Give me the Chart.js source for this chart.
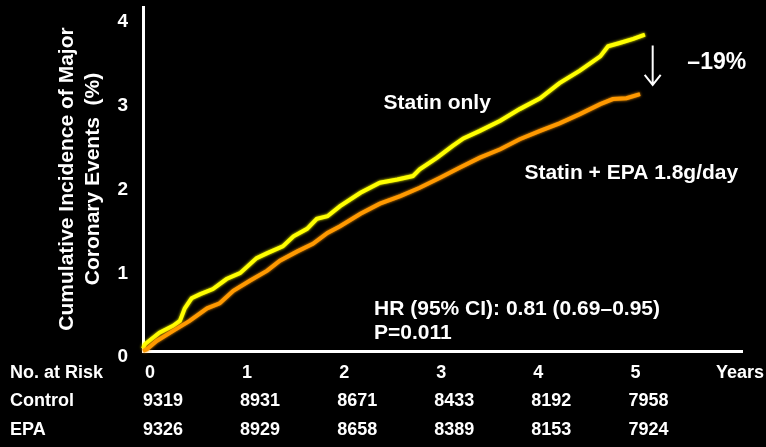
<!DOCTYPE html>
<html>
<head>
<meta charset="utf-8">
<script src="https://cdn.jsdelivr.net/npm/chart.js@4/dist/chart.umd.min.js"></script>
<style>
  html, body { margin: 0; padding: 0; background: #000; }
  #wrap { width: 766px; height: 447px; }
</style>
</head>
<body>
<div id="wrap"><canvas id="c" width="766" height="447"></canvas></div>
<script>
const FONT = '"Liberation Sans", Arial, Helvetica, sans-serif';

// Axis ticks
const yearTicks = [0, 1, 2, 3, 4, 5];
const pctTicks = [0, 1, 2, 3, 4];

// Number at risk per year
const atRiskControl = [9319, 8931, 8671, 8433, 8192, 7958];
const atRiskEPA = [9326, 8929, 8658, 8389, 8153, 7924];

// Cumulative incidence (%) of major coronary events, statin only
const statinOnlyYears = [0, 0.02, 0.17, 0.31, 0.38, 0.43, 0.50, 0.59, 0.72, 0.86, 1.00, 1.17, 1.28, 1.44, 1.55,
  1.69, 1.79, 1.90, 2.03, 2.24, 2.44, 2.62, 2.78, 2.85, 3.03, 3.19, 3.30, 3.47, 3.68, 3.88, 4.09, 4.29,
  4.50, 4.71, 4.79, 4.91, 5.05, 5.17];
const statinOnlyPct = [0.03, 0.08, 0.22, 0.30, 0.36, 0.51, 0.63, 0.68, 0.74, 0.86, 0.93, 1.11, 1.17, 1.25, 1.37,
  1.46, 1.58, 1.61, 1.73, 1.89, 2.01, 2.05, 2.09, 2.17, 2.31, 2.45, 2.54, 2.63, 2.75, 2.89, 3.02, 3.20,
  3.35, 3.52, 3.64, 3.68, 3.73, 3.78];

// Cumulative incidence (%) of major coronary events, statin + EPA
const statinEpaYears = [0, 0.04, 0.14, 0.31, 0.48, 0.66, 0.79, 0.93, 1.10, 1.28, 1.41, 1.59, 1.75, 1.90, 2.03,
  2.24, 2.44, 2.65, 2.85, 3.06, 3.26, 3.47, 3.68, 3.88, 4.09, 4.29, 4.50, 4.71, 4.84, 4.98, 5.12];
const statinEpaPct = [0.0, 0.02, 0.12, 0.24, 0.36, 0.51, 0.57, 0.72, 0.84, 0.96, 1.08, 1.19, 1.28, 1.41, 1.49,
  1.64, 1.76, 1.85, 1.95, 2.07, 2.19, 2.31, 2.41, 2.53, 2.63, 2.72, 2.83, 2.95, 3.01, 3.02, 3.07];

const toPoints = (xs, ys) => xs.map((x, i) => ({ x, y: ys[i] }));

const white = '#ffffff';
const yellow = '#ffff00';
const orange = '#ff9900';

// Soft glow around the survival curves
const glowPlugin = {
  id: 'glow',
  beforeDatasetDraw(chart, args) {
    const ds = chart.data.datasets[args.index];
    chart.ctx.save();
    chart.ctx.shadowColor = ds.borderColor;
    chart.ctx.shadowBlur = 3;
  },
  afterDatasetDraw(chart) {
    chart.ctx.restore();
  }
};

// Labels, arrow, hazard ratio and the number-at-risk table
const notesPlugin = {
  id: 'notes',
  afterDraw(chart) {
    const { ctx, chartArea } = chart;
    const xs = chart.scales.x, ys = chart.scales.y;
    const px = v => xs.getPixelForValue(v);
    const py = v => ys.getPixelForValue(v);
    ctx.save();
    ctx.fillStyle = white;
    ctx.strokeStyle = white;

    ctx.font = 'bold 21px ' + FONT;
    ctx.textBaseline = 'middle';
    ctx.textAlign = 'center';
    ctx.fillText('Statin only', px(3.03), py(2.96));
    ctx.fillText('Statin + EPA 1.8g/day', px(5.03), py(2.125));

    ctx.font = 'bold 23px ' + FONT;
    ctx.fillText('\u201319%', px(5.91), py(3.44));

    // reduction arrow
    const ax = px(5.25), ay0 = py(3.65), ay1 = py(3.18);
    ctx.lineWidth = 2;
    ctx.beginPath();
    ctx.moveTo(ax, ay0);
    ctx.lineTo(ax, ay1);
    ctx.moveTo(ax - 8, ay1 - 10);
    ctx.lineTo(ax, ay1);
    ctx.lineTo(ax + 8, ay1 - 10);
    ctx.stroke();

    ctx.font = 'bold 21px ' + FONT;
    ctx.textAlign = 'left';
    ctx.textBaseline = 'alphabetic';
    ctx.fillText('HR (95% CI): 0.81 (0.69\u20130.95)', px(2.38), py(0.43));
    ctx.fillText('P=0.011', px(2.38), py(0.143));

    // number at risk
    const rowHead = chartArea.bottom + 22;
    const rowCtl = chartArea.bottom + 50;
    const rowEpa = chartArea.bottom + 79;
    ctx.font = 'bold 18px ' + FONT;
    ctx.textBaseline = 'middle';
    ctx.textAlign = 'left';
    ctx.fillText('No. at Risk', 10, rowHead);
    ctx.fillText('Control', 10, rowCtl);
    ctx.fillText('EPA', 10, rowEpa);
    ctx.fillText('Years', 716, rowHead);
    yearTicks.forEach((yr, i) => {
      const x = px(yr);
      ctx.fillText(String(atRiskControl[i]), x, rowCtl);
      ctx.fillText(String(atRiskEPA[i]), x, rowEpa);
    });
    ctx.restore();
  }
};

new Chart(document.getElementById('c'), {
  type: 'line',
  data: {
    datasets: [
      {
        label: 'Statin + EPA 1.8g/day',
        data: toPoints(statinEpaYears, statinEpaPct),
        borderColor: orange,
        borderWidth: 4,
        pointRadius: 0,
        tension: 0,
        clip: false
      },
      {
        label: 'Statin only',
        data: toPoints(statinOnlyYears, statinOnlyPct),
        borderColor: yellow,
        borderWidth: 4,
        pointRadius: 0,
        tension: 0,
        clip: false
      }
    ]
  },
  options: {
    responsive: false,
    animation: false,
    devicePixelRatio: 1,
    layout: { padding: { left: 0, right: 24, top: 7, bottom: 0 } },
    plugins: { legend: { display: false }, tooltip: { enabled: false } },
    scales: {
      x: {
        type: 'linear',
        min: 0,
        max: 6.17,
        grid: { display: false, drawTicks: false },
        border: { display: true, color: white, width: 3 },
        afterBuildTicks: s => { s.ticks = yearTicks.map(v => ({ value: v })); },
        afterFit: s => {
          s.height = 96;
          s.paddingLeft = 0; s.paddingRight = 0;
        },
        ticks: {
          color: white,
          font: { family: FONT, size: 18, weight: 'bold' },
          padding: 11,
          labelOffset: 7,
          maxRotation: 0,
          autoSkip: false,
          callback: v => String(v)
        }
      },
      y: {
        type: 'linear',
        min: 0,
        max: 4.11,
        grid: { display: false, drawTicks: false },
        border: { display: true, color: white, width: 3 },
        afterBuildTicks: s => { s.ticks = pctTicks.map(v => ({ value: v })); },
        afterFit: s => {
          s.width = 143;
          s.paddingTop = 0; s.paddingBottom = 0;
        },
        ticks: {
          color: white,
          font: { family: FONT, size: 19, weight: 'bold' },
          padding: 15,
          labelOffset: 6,
          callback: v => String(v)
        },
        title: {
          display: true,
          text: ['Cumulative Incidence of Major', 'Coronary Events  (%)'],
          color: white,
          font: { family: FONT, size: 21, weight: 'bold', lineHeight: 1.2 },
          padding: { top: 55, bottom: 0 }
        }
      }
    }
  },
  plugins: [glowPlugin, notesPlugin]
});
</script>
</body>
</html>
